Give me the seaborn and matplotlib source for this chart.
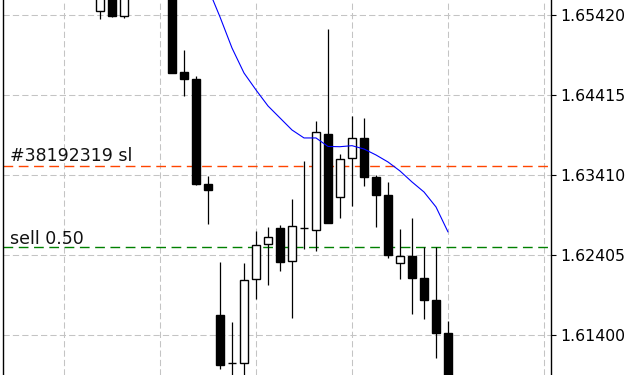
import matplotlib
matplotlib.use("Agg")
import matplotlib.pyplot as plt
import numpy as np
import pandas as pd
import seaborn as sns

# ---- data ----
bar_pos = list(range(30))
open_ = [1.65470, 1.65980, 1.65407, 1.65738, 1.66200, 1.66100, 1.65800, 1.64711, 1.64620, 1.63304,
         1.61655, 1.61048, 1.61048, 1.62104, 1.62543, 1.62744, 1.62330, 1.62748, 1.62719, 1.63929,
         1.63141, 1.63624, 1.63879, 1.63389, 1.63163, 1.62305, 1.62396, 1.62120, 1.61844, 1.61429]
high = [1.65927, 1.66043, 1.65864, 1.66350, 1.66580, 1.66300, 1.65900, 1.64984, 1.64654, 1.63405,
        1.62321, 1.61567, 1.62308, 1.62710, 1.62761, 1.62786, 1.63112, 1.63590, 1.64092, 1.65248,
        1.63678, 1.64155, 1.64130, 1.63414, 1.63326, 1.62735, 1.62874, 1.62505, 1.62505, 1.61580]
low = [1.65370, 1.65399, 1.65382, 1.65690, 1.65950, 1.65700, 1.64691, 1.64410, 1.63284, 1.62794,
       1.60980, 1.60839, 1.60889, 1.61860, 1.62036, 1.62212, 1.61621, 1.62490, 1.62463, 1.62811,
       1.62877, 1.63028, 1.63279, 1.62764, 1.62375, 1.62111, 1.61671, 1.61609, 1.61119, 1.60650]
close = [1.65864, 1.65407, 1.65738, 1.66200, 1.66100, 1.65800, 1.64699, 1.64616, 1.63304, 1.63229,
         1.61031, 1.61048, 1.62091, 1.62531, 1.62631, 1.62325, 1.62769, 1.62748, 1.63950, 1.62815,
         1.63611, 1.63875, 1.63392, 1.63166, 1.62413, 1.62392, 1.62124, 1.61847, 1.61433, 1.60776]

ma_pos = list(range(8, 30))
ma_values = [1.66178, 1.65763, 1.65399, 1.65009, 1.64695, 1.64482, 1.64281, 1.64130, 1.63979, 1.63879,
             1.63879, 1.63772, 1.63769, 1.63782, 1.63740, 1.63665, 1.63577, 1.63464, 1.63326, 1.63200,
             1.63012, 1.62698]

price_ticks = [1.65420, 1.64415, 1.63410, 1.62405, 1.61400]
price_tick_labels = ["1.65420", "1.64415", "1.63410", "1.62405", "1.61400"]
grid_bars = [-3, 5, 13, 21, 29, 37]

sl_level = 1.63523
sl_label = "#38192319 sl"
order_level = 1.62509
order_label = "sell 0.50"

# ---- style ----
sns.set_style("white")
plt.rcParams["font.family"] = ["DejaVu Sans"]

fig = plt.figure(figsize=(6.4, 3.75), dpi=100)
ax = fig.add_axes([3 / 640, 0, 548 / 640, 1])

df = pd.DataFrame({"pos": bar_pos, "open": open_, "high": high, "low": low, "close": close})
df["up"] = df["close"] > df["open"]
df["bottom"] = df[["open", "close"]].min(axis=1)
df["height"] = (df["close"] - df["open"]).abs()

# wicks
ax.vlines(df["pos"], df["low"], df["high"], color="black", linewidth=0.9, zorder=3)
# bodies
for up, fc in [(True, "white"), (False, "black")]:
    sub = df[df["up"] == up]
    ax.bar(sub["pos"], sub["height"], bottom=sub["bottom"], width=0.66,
           color=fc, edgecolor="black", linewidth=1.0, zorder=4)

# moving average
ma_df = pd.DataFrame({"pos": ma_pos, "ma": ma_values})
sns.lineplot(data=ma_df, x="pos", y="ma", ax=ax, color="#0000ff", linewidth=0.8, zorder=5)

# order lines
ax.axhline(sl_level, color="#ff4500", linestyle=(0, (7, 4)), linewidth=1.0, zorder=2)
ax.axhline(order_level, color="#008000", linestyle=(0, (7, 4)), linewidth=1.0, zorder=2)
ax.annotate(sl_label, xy=(0.0128, sl_level), xycoords=("axes fraction", "data"),
            xytext=(0, 4), textcoords="offset points", ha="left", va="baseline",
            fontsize=12.5, color="#111111")
ax.annotate(order_label, xy=(0.0128, order_level), xycoords=("axes fraction", "data"),
            xytext=(0, 2.2), textcoords="offset points", ha="left", va="baseline",
            fontsize=12.5, color="#111111")

# axes
ax.set_xlim(-8.083, 37.583)
ax.set_ylim(1.60901, 1.65612)
ax.set_xticks(grid_bars)
ax.set_xticklabels([])
ax.set_yticks(price_ticks)
ax.set_yticklabels(price_tick_labels)
ax.yaxis.tick_right()
ax.tick_params(axis="y", right=True, left=False, labelright=True, labelleft=False,
               length=3.5, width=0.8, pad=3.5, labelsize=11.3, colors="black", direction="out")
ax.tick_params(axis="x", length=0, bottom=False, labelbottom=False)
ax.set_xlabel("")
ax.set_ylabel("")
ax.grid(True, color="#c4c4c4", linestyle=(0, (6, 3)), linewidth=0.75, zorder=0)
ax.set_axisbelow(True)
for side in ["top", "bottom"]:
    ax.spines[side].set_visible(False)
for side in ["left", "right"]:
    ax.spines[side].set_visible(True)
    ax.spines[side].set_color("black")
    ax.spines[side].set_linewidth(1.0)
ax.patch.set_alpha(0)
if ax.get_legend():
    ax.get_legend().remove()

fig.savefig("out.png", dpi=100, facecolor="white")
